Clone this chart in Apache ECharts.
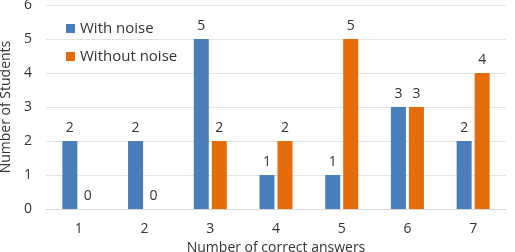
<!DOCTYPE html>
<html>
<head>
<meta charset="utf-8">
<script src="https://cdn.jsdelivr.net/npm/echarts@6/dist/echarts.min.js"></script>
<style>
  html, body { margin: 0; padding: 0; background: #fff; }
  #chart { width: 515px; height: 252px; }
</style>
</head>
<body>
<div id="chart"></div>
<script>
let categories = ["1", "2", "3", "4", "5", "6", "7"];
let withNoise = [2, 2, 5, 1, 1, 3, 2];
let withoutNoise = [0, 0, 2, 2, 5, 3, 4];
let yTicks = [0, 1, 2, 3, 4, 5, 6];

let chartDom = document.getElementById("chart");
let myChart = echarts.init(chartDom);

let font = "Open Sans";
let txt = "#333";

var option = {
  animation: false,
  textStyle: { fontFamily: font },
  legend: {
    orient: "vertical",
    left: 61,
    top: 16,
    itemWidth: 9,
    itemHeight: 9,
    itemGap: 13,
    icon: "rect",
    textStyle: { fontSize: 15, color: txt, fontFamily: font },
  },
  grid: {
    left: 46,
    right: 9,
    top: 5,
    bottom: 43,
    outerBoundsMode: "none",
  },
  xAxis: {
    type: "category",
    data: categories,
    name: "Number of correct answers",
    nameLocation: "middle",
    nameGap: 30,
    nameTextStyle: { fontSize: 14, color: txt },
    axisLine: { lineStyle: { color: "#d9d9d9" } },
    axisTick: { show: false },
    axisLabel: { fontSize: 14, color: txt, margin: 13 },
  },
  yAxis: {
    type: "value",
    min: yTicks[0],
    max: yTicks[yTicks.length - 1],
    interval: 1,
    name: "Number of Students",
    nameLocation: "middle",
    nameGap: 30,
    nameTextStyle: { fontSize: 14, color: txt },
    axisLine: { show: false },
    axisTick: { show: false },
    axisLabel: { fontSize: 14, color: txt, margin: 14 },
    splitLine: { lineStyle: { color: "#e3e3e3" } },
  },
  series: [
    {
      name: "With noise",
      type: "bar",
      data: withNoise,
      color: "#4a7ebb",
      barWidth: 15,
      barGap: "20%",
      label: { show: true, position: "top", fontSize: 14, color: txt, distance: 6 },
    },
    {
      name: "Without noise",
      type: "bar",
      data: withoutNoise,
      color: "#e46c0a",
      barWidth: 15,
      label: { show: true, position: "top", fontSize: 14, color: txt, distance: 6 },
    },
  ],
};

myChart.setOption(option);
</script>
</body>
</html>
